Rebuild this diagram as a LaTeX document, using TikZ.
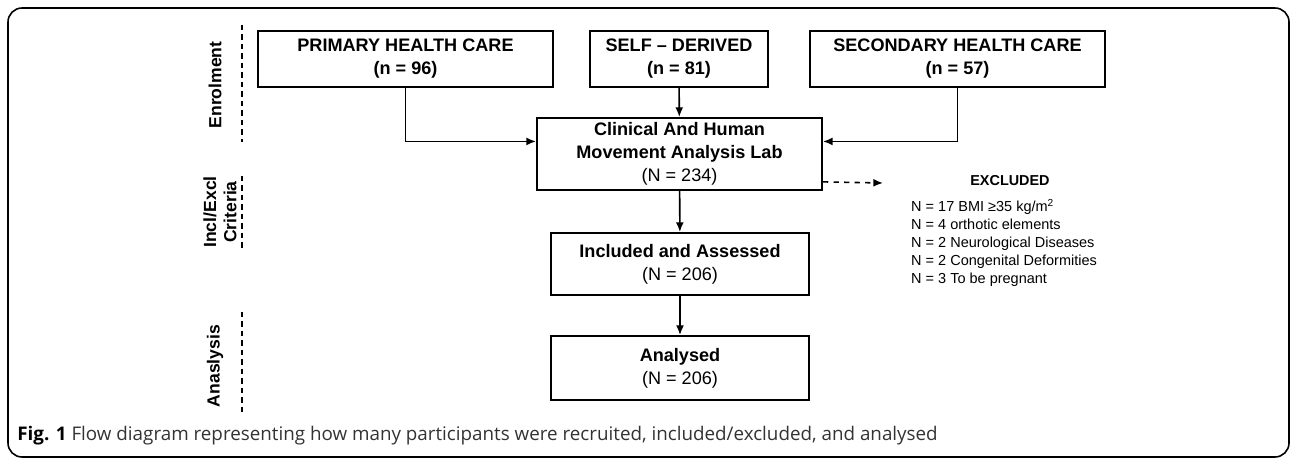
\documentclass[tikz,border=0pt]{standalone}
\usepackage{fontspec}
\setmainfont{Liberation Sans}
\newfontfamily\capfont{Open Sans}
\usetikzlibrary{positioning, arrows.meta}

\begin{document}
\begin{tikzpicture}[
  box/.style={draw, line width=1.1pt, align=center, inner sep=0pt,
    minimum height=1.12cm, font=\fontsize{10.3}{13.1}\selectfont},
  flow/.style={line width=0.9pt, -{Latex[length=5.5pt, width=4.5pt]}},
  stage/.style={rotate=90, align=center, font=\fontsize{10}{11.5}\selectfont\bfseries},
  divider/.style={line width=1pt, dash pattern=on 3pt off 2.4pt}
]
\useasboundingbox (0, 0) rectangle (25.8, 9.18);
\draw[line width=0.9pt, rounded corners=8pt] (0.16, 0.04) rectangle (25.78, 9.02);

% stages on the left
\node[stage] (enrol) at (4.3, 7.48) {Enrolment};
\node[stage] (crit) at (4.4, 4.94) {Incl/Excl\\Criteria};
\node[stage] (anal) at (4.3, 1.86) {Anaslysis};
\draw[divider] (4.84, 8.68) -- (4.84, 6.34);
\draw[divider] (4.84, 5.66) -- (4.84, 4.18);
\draw[divider] (4.84, 2.94) -- (4.84, 0.9);

% sources
\node[box, minimum width=5.9cm] (prim) at (8.11, 8.0) {\textbf{PRIMARY HEALTH CARE}\\\textbf{(n = 96)}};
\node[box, minimum width=3.56cm] (self) at (13.58, 8.0) {\textbf{SELF – DERIVED}\\\textbf{(n = 81)}};
\node[box, minimum width=5.9cm] (sec) at (19.15, 8.0) {\textbf{SECONDARY HEALTH CARE}\\\textbf{(n = 57)}};

% flow
\node[box, minimum width=5.7cm, minimum height=1.44cm] (lab) at (13.59, 6.1) {\textbf{Clinical And Human}\\\textbf{Movement Analysis Lab}\\(N = 234)};
\node[box, minimum width=5.16cm, minimum height=1.24cm] (incl) at (13.6, 3.9) {\textbf{Included and Assessed}\\(N = 206)};
\node[box, minimum width=5.16cm, minimum height=1.28cm] (done) at (13.6, 1.82) {\textbf{Analysed}\\(N = 206)};

\draw[flow] (prim.south) |- (lab.175);
\draw[flow] (self) -- (lab);
\draw[flow] (sec.south) |- (lab.5);
\draw[flow] (lab) -- (incl);
\draw[flow] (incl) -- (done);

% excluded
\coordinate (extip) at (17.66, 5.52);
\draw[flow, dashed] (lab.-11.5) -- (extip);
\node[font=\fontsize{8.2}{10}\selectfont\bfseries] (exhead) at (20.2, 5.56) {EXCLUDED};
\node[anchor=west, align=left, font=\fontsize{8.25}{10.24}\selectfont] (exlist) at (18.1, 4.32)
  {N = 17 BMI ≥35 kg/m\textsuperscript{2}\\N = 4 orthotic elements\\N = 2 Neurological Diseases\\N = 2 Congenital Deformities\\N = 3 To be pregnant};

% caption
\node[anchor=base west, inner sep=0pt, text=black!80, font=\capfont\fontsize{10.7}{12}\selectfont] (cap) at (0.34, 0.36)
  {\textbf{\color{black}Fig. 1} Flow diagram representing how many participants were recruited, included/excluded, and analysed};
\end{tikzpicture}
\end{document}
